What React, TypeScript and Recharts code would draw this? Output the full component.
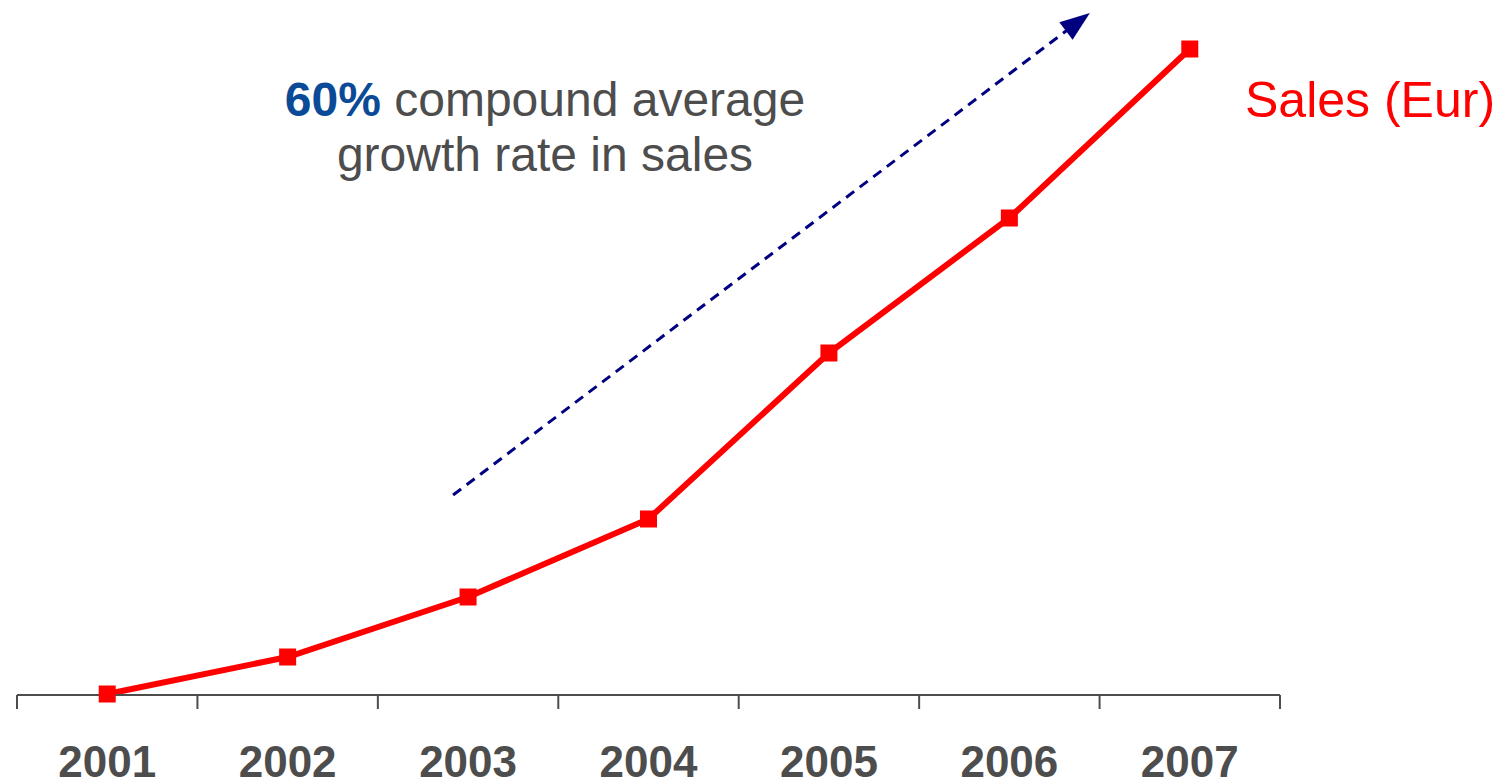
import { Line, LineChart, ReferenceLine, XAxis, YAxis } from "recharts";

const YEARS = ["2001", "2002", "2003", "2004", "2005", "2006", "2007"];
const SALES = [1, 38, 98, 176, 342, 477, 646];
// dashed trend arrow, in data units (year index, sales)
const TREND_START = [2.917, 200];
const TREND_END = [6.38, 673];

const FONT = '"Liberation Sans", Arial, sans-serif';
const GRAY = "#4d4d4d";
const RED = "#ff0000";
const NAVY = "#000080";

const data = YEARS.map((year, i) => ({ idx: i + 1, year, sales: SALES[i] }));
const ticks = [0.5, 1, 1.5, 2, 2.5, 3, 3.5, 4, 4.5, 5, 5.5, 6, 6.5, 7, 7.5];

const YearTick = (props: any) => {
  const { x, y, payload } = props;
  const v = payload.value;
  if (Number.isInteger(v)) {
    return (
      <text x={x} y={y + 68} textAnchor="middle" fill={GRAY} fontSize={44} fontWeight="bold" fontFamily={FONT}>
        {YEARS[v - 1]}
      </text>
    );
  }
  return <line x1={x} x2={x} y1={y - 14} y2={y} stroke={GRAY} strokeWidth={2} />;
};

const SquareDot = (props: any) => {
  const { cx, cy, index } = props;
  return <rect key={index} x={cx - 8.5} y={cy - 8.5} width={17} height={17} fill={RED} />;
};

const TrendArrow = (props: any) => {
  const { x1, y1, x2, y2 } = props;
  const ang = Math.atan2(y2 - y1, x2 - x1);
  const len = 30;
  const w = 11;
  const tx = x2 + Math.cos(ang) * 15;
  const ty = y2 + Math.sin(ang) * 15;
  const bx = tx - Math.cos(ang) * len;
  const by = ty - Math.sin(ang) * len;
  const pts = [
    [tx, ty],
    [bx - Math.sin(ang) * w, by + Math.cos(ang) * w],
    [bx + Math.sin(ang) * w, by - Math.cos(ang) * w],
  ]
    .map((p) => p.join(","))
    .join(" ");
  return (
    <g>
      <line x1={x1} y1={y1} x2={x2} y2={y2} stroke={NAVY} strokeWidth={3} strokeDasharray="10 7" />
      <polygon points={pts} fill={NAVY} />
    </g>
  );
};

export default function App() {
  return (
    <div style={{ position: "absolute", left: 0, top: 0, width: 1506, height: 783, background: "#fff" }}>
      <LineChart width={1506} height={783} data={data} margin={{ top: 49, right: 226, bottom: 28, left: 17 }}>
        <XAxis
          dataKey="idx"
          type="number"
          domain={[0.5, 7.5]}
          ticks={ticks}
          interval={0}
          tick={<YearTick />}
          tickLine={false}
          tickSize={14}
          tickMargin={0}
          height={60}
          axisLine={{ stroke: GRAY, strokeWidth: 2 }}
        />
        <YAxis hide type="number" domain={[0, 646]} />
        <ReferenceLine
          segment={[
            { x: TREND_START[0], y: TREND_START[1] },
            { x: TREND_END[0], y: TREND_END[1] },
          ]}
          ifOverflow="visible"
          shape={<TrendArrow />}
        />
        <Line
          dataKey="sales"
          stroke={RED}
          strokeWidth={6}
          dot={<SquareDot />}
          activeDot={false}
          isAnimationActive={false}
        />
      </LineChart>
      <svg width={1506} height={783} style={{ position: "absolute", left: 0, top: 0, pointerEvents: "none" }}>
        <text x={545} y={116} textAnchor="middle" fontSize={48} fontFamily={FONT} fill={GRAY}>
          <tspan fill="#0b4a96" fontWeight="bold">60%</tspan> compound average
        </text>
        <text x={545} y={171} textAnchor="middle" fontSize={48} fontFamily={FONT} fill={GRAY}>
          growth rate in sales
        </text>
        <text x={1245} y={117} fontSize={50} fontFamily={FONT} fill={RED}>
          Sales (Eur)
        </text>
      </svg>
    </div>
  );
}
